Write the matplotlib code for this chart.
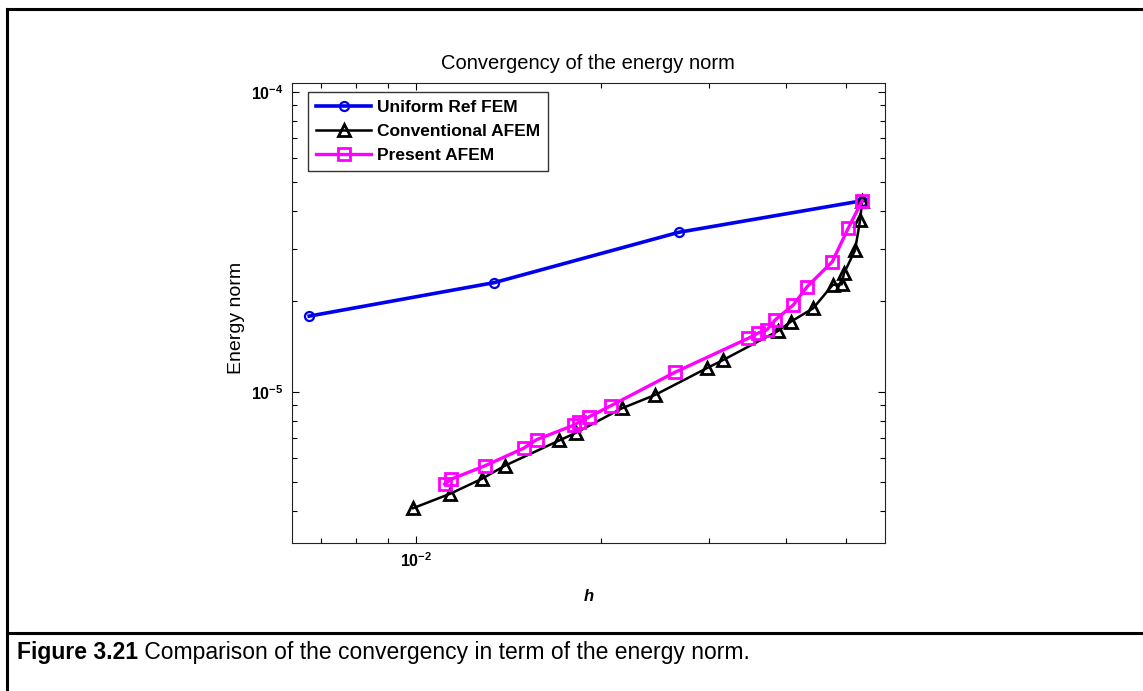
import matplotlib
matplotlib.use("Agg")
import matplotlib.pyplot as plt
from matplotlib.lines import Line2D
from matplotlib.ticker import NullFormatter

plt.rcParams['font.family'] = ['Liberation Sans', 'DejaVu Sans']
plt.rcParams['mathtext.fontset'] = 'custom'
plt.rcParams['mathtext.rm'] = 'Liberation Sans'
plt.rcParams['mathtext.bf'] = 'Liberation Sans:bold'

# --- dati ---
h_uniform = [0.00671, 0.01342, 0.0268, 0.0532]
e_uniform = [1.786e-5, 2.31e-5, 3.40e-5, 4.33e-5]

h_conv = [0.0099, 0.01138, 0.0128, 0.01397, 0.01712, 0.01823, 0.02163, 0.02449,
          0.02972, 0.03163, 0.03887, 0.04073, 0.04429, 0.04765, 0.04929, 0.0497,
          0.0518, 0.0528, 0.0532]
e_conv = [4.09e-6, 4.57e-6, 5.12e-6, 5.67e-6, 6.88e-6, 7.30e-6, 8.80e-6, 9.75e-6,
          1.197e-5, 1.276e-5, 1.596e-5, 1.711e-5, 1.897e-5, 2.27e-5, 2.28e-5, 2.48e-5,
          2.96e-5, 3.73e-5, 4.33e-5]

h_present = [0.01114, 0.01142, 0.01295, 0.01498, 0.01572, 0.01809, 0.0184, 0.01915,
             0.02079, 0.0264, 0.03474, 0.03596, 0.03722, 0.0384, 0.04111, 0.0433,
             0.04756, 0.05051, 0.0532]
e_present = [4.92e-6, 5.11e-6, 5.66e-6, 6.48e-6, 6.92e-6, 7.74e-6, 7.90e-6, 8.25e-6,
             8.99e-6, 1.161e-5, 1.507e-5, 1.566e-5, 1.606e-5, 1.734e-5, 1.945e-5, 2.239e-5,
             2.71e-5, 3.51e-5, 4.33e-5]

series_labels = ['Uniform Ref FEM', 'Conventional AFEM', 'Present AFEM']
xtick_values = [1e-2]
xtick_labels = [r'$\mathbf{10^{-2}}$']
ytick_values = [1e-5, 1e-4]
ytick_labels = [r'$\mathbf{10^{-5}}$', r'$\mathbf{10^{-4}}$']

fig = plt.figure(figsize=(11.43, 6.91), dpi=100, facecolor='white')
ax = fig.add_axes([0.2552, 0.2142, 0.5191, 0.6657])

ax.plot(h_uniform, e_uniform, color='#0000ee', lw=2.6, marker='o', ms=6.5,
        mfc='none', mec='#0000ee', mew=1.6, label=series_labels[0])
ax.plot(h_conv, e_conv, color='black', lw=1.8, marker='^', ms=8,
        mfc='none', mec='black', mew=2.0, label=series_labels[1], zorder=3)
ax.plot(h_present, e_present, color='#ff00ff', lw=2.4, marker='s', ms=8,
        mfc='none', mec='#ff00ff', mew=2.0, label=series_labels[2], zorder=4)

ax.set_xscale('log')
ax.set_yscale('log')
ax.set_xlim(6.284e-3, 0.05796)
ax.set_ylim(3.131e-6, 1.069e-4)

ax.set_xticks(xtick_values)
ax.set_xticklabels(xtick_labels)
ax.xaxis.set_minor_formatter(NullFormatter())
ax.set_yticks(ytick_values)
ax.set_yticklabels(ytick_labels)
ax.yaxis.set_minor_formatter(NullFormatter())
ax.tick_params(which='both', direction='in', top=True, right=True, width=0.8)
ax.tick_params(which='major', length=5, labelsize=11.5, pad=6)
ax.tick_params(which='minor', length=3.5)
for s in ax.spines.values():
    s.set_linewidth(0.8)
    s.set_color('#222222')

ax.set_title('Convergency of the energy norm', fontsize=14.5, pad=10)
ax.set_xlabel('h', fontsize=12, fontstyle='italic', fontweight='bold', labelpad=14)
ax.set_ylabel('Energy norm', fontsize=14)
ax.yaxis.set_label_coords(-0.078, 0.49)

leg = ax.legend(loc='upper left', bbox_to_anchor=(0.0275, 0.98), borderaxespad=0,
                fancybox=False, edgecolor='black', handlelength=3.2, handletextpad=0.35,
                labelspacing=0.5, prop={'weight': 'bold', 'size': 12.5}, borderpad=0.45)
leg.get_frame().set_linewidth(1.0)

# cornice e didascalia
fig.add_artist(Line2D([0.0061, 0.0061], [0.0, 0.987], color='black', lw=2.2))
fig.add_artist(Line2D([0.0061, 1.0], [0.987, 0.987], color='black', lw=2.2))
fig.add_artist(Line2D([0.0061, 1.0], [0.0839, 0.0839], color='black', lw=2.2))

t1 = fig.text(0.0149, 0.0564, 'Figure 3.21', fontsize=16.5, fontweight='bold', va='center')
ax.annotate(' Comparison of the convergency in term of the energy norm.', xy=(1, 0),
            xycoords=t1, va='bottom', ha='left', fontsize=16.5)

fig.savefig('out.png', dpi=100, facecolor='white')
